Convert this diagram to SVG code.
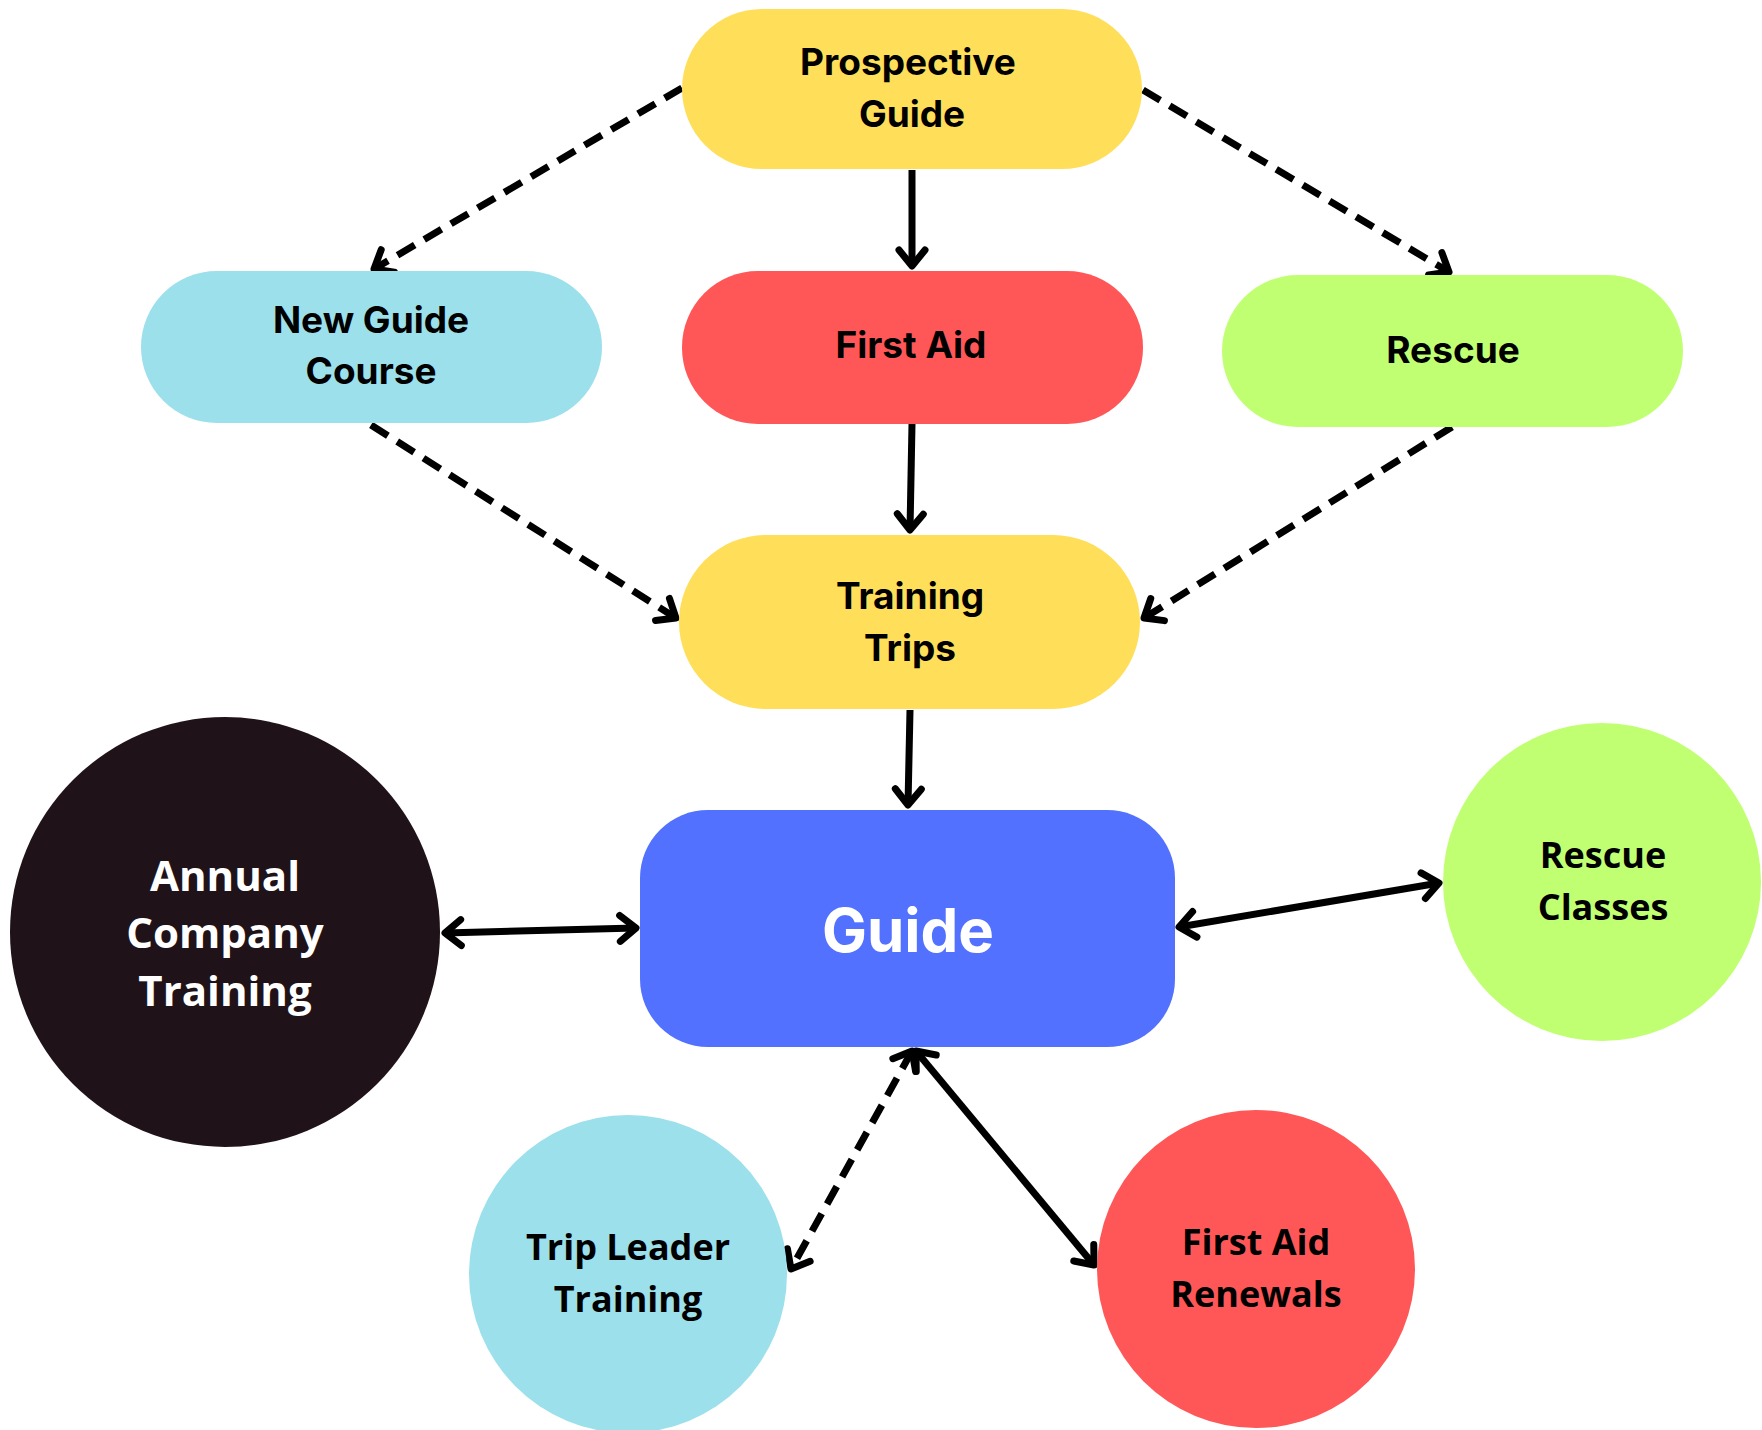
<svg xmlns="http://www.w3.org/2000/svg" width="1762" height="1430" viewBox="0 0 1762 1430">
<style>
.lbl{font-family:Inter,"Open Sans","Liberation Sans",sans-serif;font-weight:700;font-size:37px;fill:#000;text-anchor:middle}
.clbl{font-family:"Open Sans","Liberation Sans",sans-serif;font-weight:700;font-size:36px;fill:#000;text-anchor:middle}
.wht{fill:#fff}
.ln{fill:none;stroke:#000;stroke-width:7}
.dash{stroke-dasharray:20 11;stroke-width:7}
.yel{fill:#FFDE59}.blu{fill:#9BE0EB}.red{fill:#FF5757}.grn{fill:#C1FF72}.main{fill:#5271FF}.blk{fill:#1F1319}
</style>
<defs>
<marker id="ah" markerUnits="userSpaceOnUse" markerWidth="40" markerHeight="40" refX="0" refY="0" viewBox="-25 -20 30 40" orient="auto-start-reverse" overflow="visible">
<path d="M -16 -13 L 0 0 L -16 13" fill="none" stroke="#000" stroke-width="7" stroke-linecap="round" stroke-linejoin="round" stroke-dasharray="none"/>
</marker>
</defs>
<rect width="1762" height="1430" fill="#fff"/>
<g id="connectors">
<line class="ln dash" x1="682" y1="88" x2="374" y2="269" marker-end="url(#ah)"/>
<line class="ln" x1="912" y1="170" x2="912" y2="266" marker-end="url(#ah)"/>
<line class="ln dash" x1="1143" y1="90" x2="1449" y2="272" marker-end="url(#ah)"/>
<line class="ln dash" x1="371" y1="425" x2="676" y2="618" marker-end="url(#ah)"/>
<line class="ln" x1="912" y1="424" x2="910" y2="530" marker-end="url(#ah)"/>
<line class="ln dash" x1="1452" y1="427" x2="1144" y2="618" marker-end="url(#ah)"/>
<line class="ln" x1="910" y1="710" x2="908" y2="805" marker-end="url(#ah)"/>
<line class="ln" x1="445" y1="933" x2="636" y2="928" marker-start="url(#ah)" marker-end="url(#ah)"/>
<line class="ln" x1="1179" y1="927" x2="1439" y2="883" marker-start="url(#ah)" marker-end="url(#ah)"/>
<line class="ln dash" x1="912" y1="1051" x2="791" y2="1269" marker-start="url(#ah)" marker-end="url(#ah)"/>
<line class="ln" x1="916" y1="1051" x2="1094" y2="1265" marker-start="url(#ah)" marker-end="url(#ah)"/>
</g>
<g id="prospective-guide">
<rect class="yel" x="682" y="9" width="460" height="160" rx="80"/>
<text class="lbl" x="908" y="75">Prospective</text>
<text class="lbl" x="912" y="127">Guide</text>
</g>
<g id="new-guide-course">
<rect class="blu" x="141" y="271" width="461" height="152" rx="76"/>
<text class="lbl" x="371" y="333">New Guide</text>
<text class="lbl" x="371" y="384">Course</text>
</g>
<g id="first-aid">
<rect class="red" x="682" y="271" width="461" height="153" rx="76"/>
<text class="lbl" x="911" y="358">First Aid</text>
</g>
<g id="rescue">
<rect class="grn" x="1222" y="275" width="461" height="152" rx="76"/>
<text class="lbl" x="1453" y="363">Rescue</text>
</g>
<g id="training-trips">
<rect class="yel" x="679" y="535" width="461" height="174" rx="87"/>
<text class="lbl" x="910" y="609">Training</text>
<text class="lbl" x="910" y="661">Trips</text>
</g>
<g id="guide">
<rect class="main" x="640" y="810" width="535" height="237" rx="68"/>
<text class="lbl wht" x="908" y="952" style="font-size:60px">Guide</text>
</g>
<g id="annual-company-training">
<circle class="blk" cx="225" cy="932" r="215"/>
<text class="clbl wht" x="225" y="891" style="font-size:42px">Annual</text>
<text class="clbl wht" x="225" y="948" style="font-size:42px">Company</text>
<text class="clbl wht" x="225" y="1006" style="font-size:42px">Training</text>
</g>
<g id="rescue-classes">
<circle class="grn" cx="1602" cy="882" r="159"/>
<text class="clbl" x="1603" y="868">Rescue</text>
<text class="clbl" x="1603" y="920">Classes</text>
</g>
<g id="trip-leader-training">
<circle class="blu" cx="628" cy="1274" r="159"/>
<text class="clbl" x="628" y="1260">Trip Leader</text>
<text class="clbl" x="628" y="1312">Training</text>
</g>
<g id="first-aid-renewals">
<circle class="red" cx="1256" cy="1269" r="159"/>
<text class="clbl" x="1256" y="1255">First Aid</text>
<text class="clbl" x="1256" y="1307">Renewals</text>
</g>
</svg>
